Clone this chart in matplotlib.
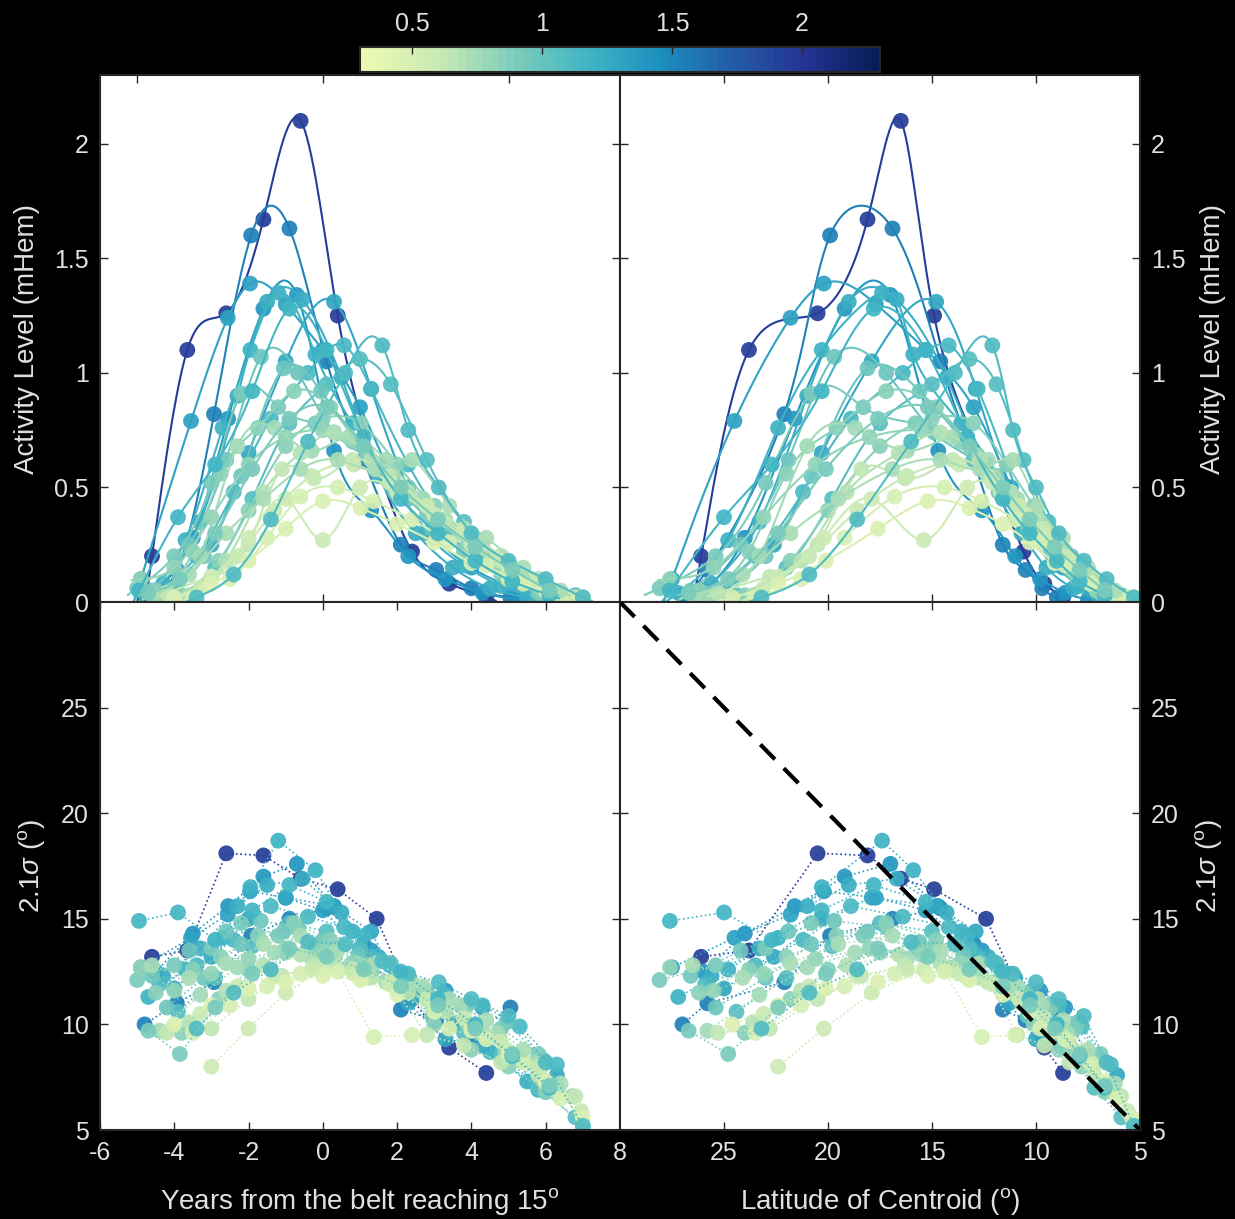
import numpy as np
import matplotlib
matplotlib.use("Agg")
import matplotlib.pyplot as plt
from matplotlib.colors import ListedColormap, Normalize
from matplotlib.cm import ScalarMappable

plt.rcParams['font.family'] = ['Liberation Sans', 'DejaVu Sans']
plt.rcParams['mathtext.fontset'] = 'custom'
plt.rcParams['mathtext.rm'] = 'Liberation Sans'
plt.rcParams['mathtext.it'] = 'Liberation Sans:italic'
plt.rcParams['axes.unicode_minus'] = False

# ---------------- data ----------------
cycle_strength = [1.95, 1.52, 1.42, 1.32, 1.28, 1.22, 1.18, 1.12, 1.08, 0.98,
                  0.98, 0.92, 0.86, 0.84, 0.80, 0.76, 0.70, 0.64, 0.60, 0.57,
                  0.50, 0.46, 0.72, 1.10, 1.15, 0.90]

cycle_years = [
    [-4.6, -3.65, -2.6, -1.6, -0.6, 0.4, 1.45, 2.4, 3.4, 4.4],
    [-4.8, -3.93, -2.93, -1.93, -0.9, 0.1, 1.1, 2.1, 3.05, 4.0, 5.05],
    [-4.5, -3.5, -2.55, -1.6, -0.7, 0.3, 1.3, 2.3, 3.3, 4.3, 5.3],
    [-4.9, -3.55, -2.56, -1.96, -1.0, 0.0, 1.0, 2.0, 3.0, 4.0, 5.0, 6.0],
    [-4.0, -3.0, -2.0, -1.0, 0.3, 1.3, 2.3, 3.3, 4.3, 5.3, 6.3],
    [-4.3, -3.3, -2.3, -1.5, -0.55, 0.5, 1.5, 2.5, 3.5, 4.5, 5.5],
    [-4.7, -3.7, -2.7, -1.95, -1.2, -0.2, 0.8, 1.8, 2.8, 3.8, 4.8, 5.8],
    [-4.4, -3.4, -2.4, -1.4, -0.4, 0.57, 1.3, 2.3, 3.3, 4.3, 5.3, 6.3],
    [-3.9, -2.9, -1.9, -0.9, 0.1, 1.0, 1.83, 2.8, 3.8, 4.8, 5.8, 6.8],
    [-4.6, -3.6, -2.6, -1.67, -0.67, 0.3, 1.3, 2.3, 3.3, 4.3, 5.3, 6.3],
    [-4.2, -3.2, -2.2, -1.05, -0.05, 0.95, 1.95, 2.95, 3.95, 4.95, 5.95],
    [-5.0, -4.0, -3.0, -2.2, -1.2, -0.2, 0.8, 1.8, 2.8, 3.8, 4.8, 5.8],
    [-4.5, -3.5, -2.75, -1.75, -0.78, 0.2, 1.2, 2.2, 3.2, 4.2, 5.2, 6.2],
    [-3.8, -2.8, -2.0, -1.0, 0.0, 1.02, 2.0, 3.0, 4.0, 5.0, 6.0, 7.0],
    [-4.9, -4.0, -3.0, -2.0, -1.0, 0.0, 0.9, 1.9, 2.9, 3.9, 4.9, 5.9],
    [-4.4, -3.3, -2.3, -1.3, -0.3, 0.7, 1.7, 2.7, 3.7, 4.7, 5.7, 6.7],
    [-3.6, -2.6, -1.6, -0.6, 0.3, 1.3, 2.3, 3.3, 4.3, 5.3, 6.3],
    [-4.2, -3.0, -2.0, -1.1, -0.24, 0.8, 1.8, 2.8, 3.8, 4.8, 5.8, 6.8],
    [-3.3, -2.3, -1.3, -0.3, 0.83, 1.8, 2.8, 3.8, 4.8, 5.8, 6.95],
    [-3.0, -2.0, -1.0, 0.0, 1.0, 2.0, 3.0, 4.0, 5.0, 6.0],
    [-3.5, -2.5, -1.5, -0.6, 0.4, 1.37, 2.4, 3.4, 4.4, 5.4, 6.4],
    [-4.0, -3.0, -2.0, -1.0, 0.0, 1.02, 2.0, 3.0, 4.0, 5.0, 6.0, 7.0],
    [-4.6, -3.6, -2.6, -1.6, -0.6, 0.4, 1.4, 2.4, 3.4, 4.4, 5.4, 6.4],
    [-3.4, -2.4, -1.4, -0.4, 0.6, 1.6, 2.3, 3.12, 4.0, 5.0, 6.0, 7.0],
    [-4.95, -3.9, -2.9, -1.9, -0.9, 0.1, 1.1, 2.1, 3.1, 4.1, 5.1, 6.1],
    [-4.7, -3.85, -2.9, -1.9, -0.9, 0.1, 1.1, 2.1, 3.1, 4.1, 5.1, 6.1],
]

cycle_activity = [
    [0.20, 1.10, 1.26, 1.67, 2.10, 1.25, 0.60, 0.22, 0.08, 0.02],
    [0.03, 0.14, 0.82, 1.60, 1.63, 1.05, 0.62, 0.25, 0.14, 0.06, 0.02],
    [0.05, 0.28, 0.80, 1.28, 1.34, 0.66, 0.40, 0.20, 0.10, 0.04, 0.01],
    [0.10, 0.79, 1.24, 1.39, 1.30, 1.10, 0.85, 0.50, 0.28, 0.15, 0.07, 0.02],
    [0.05, 0.25, 0.65, 1.05, 1.31, 0.93, 0.50, 0.30, 0.18, 0.08, 0.03],
    [0.08, 0.35, 0.90, 1.31, 1.32, 0.98, 0.55, 0.30, 0.15, 0.06, 0.02],
    [0.04, 0.27, 0.76, 1.10, 1.35, 1.08, 0.78, 0.55, 0.30, 0.16, 0.07, 0.02],
    [0.04, 0.20, 0.48, 0.80, 1.00, 1.12, 0.93, 0.60, 0.35, 0.20, 0.10, 0.03],
    [0.03, 0.15, 0.45, 0.78, 0.95, 1.06, 0.95, 0.62, 0.35, 0.20, 0.10, 0.03],
    [0.05, 0.25, 0.62, 1.07, 1.00, 0.74, 0.62, 0.45, 0.30, 0.18, 0.10, 0.03],
    [0.04, 0.20, 0.55, 1.02, 0.92, 0.70, 0.48, 0.32, 0.20, 0.10, 0.03],
    [0.06, 0.20, 0.52, 0.91, 0.85, 0.78, 0.70, 0.55, 0.38, 0.22, 0.12, 0.04],
    [0.05, 0.22, 0.56, 0.76, 0.92, 0.85, 0.64, 0.48, 0.34, 0.22, 0.12, 0.04],
    [0.03, 0.18, 0.40, 0.68, 0.80, 0.78, 0.60, 0.42, 0.28, 0.16, 0.08, 0.02],
    [0.10, 0.15, 0.37, 0.60, 0.72, 0.75, 0.70, 0.55, 0.40, 0.26, 0.14, 0.05],
    [0.02, 0.20, 0.68, 0.76, 0.66, 0.72, 0.62, 0.45, 0.30, 0.18, 0.09, 0.02],
    [0.03, 0.18, 0.48, 0.65, 0.74, 0.62, 0.48, 0.36, 0.24, 0.13, 0.04],
    [0.04, 0.11, 0.25, 0.58, 0.54, 0.62, 0.55, 0.42, 0.30, 0.18, 0.08, 0.02],
    [0.06, 0.20, 0.40, 0.55, 0.60, 0.52, 0.42, 0.32, 0.20, 0.10, 0.02],
    [0.11, 0.28, 0.45, 0.27, 0.50, 0.48, 0.38, 0.25, 0.14, 0.05],
    [0.02, 0.10, 0.28, 0.46, 0.50, 0.44, 0.36, 0.26, 0.16, 0.08, 0.02],
    [0.02, 0.08, 0.18, 0.32, 0.44, 0.41, 0.34, 0.26, 0.17, 0.10, 0.05, 0.01],
    [0.03, 0.12, 0.30, 0.45, 0.58, 0.62, 0.58, 0.62, 0.42, 0.28, 0.15, 0.05],
    [0.02, 0.12, 0.36, 0.70, 1.00, 1.12, 0.75, 0.50, 0.30, 0.18, 0.10, 0.02],
    [0.05, 0.37, 0.60, 0.92, 1.28, 1.10, 0.72, 0.45, 0.30, 0.18, 0.09, 0.03],
    [0.04, 0.10, 0.30, 0.58, 0.80, 0.85, 0.68, 0.50, 0.36, 0.24, 0.14, 0.05],
]

cycle_latitude = [
    [26.1, 23.8, 20.5, 18.1, 16.5, 14.9, 12.4, 10.6, 9.6, 8.7],
    [27.0, 25.8, 22.1, 19.9, 16.9, 14.6, 13.0, 11.6, 10.5, 9.7, 9.0],
    [26.0, 24.0, 21.6, 19.2, 17.0, 14.7, 12.6, 11.0, 9.8, 8.6, 7.5],
    [27.5, 24.5, 21.8, 20.2, 17.7, 15.3, 13.0, 11.2, 9.9, 8.7, 7.5, 6.3],
    [25.0, 22.6, 20.3, 17.9, 14.8, 12.9, 11.3, 10.0, 8.8, 7.5, 6.1],
    [25.6, 23.3, 21.0, 19.0, 16.7, 14.3, 12.3, 10.7, 9.5, 8.2, 7.0],
    [27.2, 24.8, 22.4, 20.3, 17.4, 15.9, 13.6, 11.9, 10.4, 9.1, 7.9, 6.6],
    [25.9, 23.5, 21.2, 18.9, 16.4, 14.2, 12.8, 11.4, 10.2, 8.9, 7.8, 6.4],
    [24.4, 22.0, 19.8, 17.5, 15.0, 13.2, 11.9, 10.6, 9.4, 8.3, 7.2, 5.9],
    [26.6, 24.2, 21.9, 19.7, 17.2, 14.9, 13.0, 11.4, 10.1, 9.0, 7.9, 6.7],
    [25.4, 23.0, 20.8, 18.1, 15.6, 13.5, 11.8, 10.4, 9.2, 8.0, 6.8],
    [28.1, 25.4, 23.0, 20.8, 18.3, 15.8, 13.6, 11.9, 10.5, 9.3, 8.1, 6.9],
    [26.2, 23.8, 22.0, 19.6, 17.2, 14.8, 12.8, 11.3, 10.0, 8.9, 7.8, 6.5],
    [24.0, 21.8, 20.0, 17.5, 15.0, 13.0, 11.4, 10.1, 8.9, 7.8, 6.7, 5.3],
    [27.6, 25.5, 23.1, 20.6, 18.0, 15.5, 13.6, 12.0, 10.7, 9.5, 8.3, 7.1],
    [25.8, 23.3, 21.0, 18.7, 16.2, 14.0, 12.3, 10.9, 9.7, 8.5, 7.3, 6.0],
    [23.6, 21.3, 19.1, 16.6, 14.6, 12.7, 11.2, 10.0, 8.8, 7.6, 6.3],
    [25.3, 22.8, 20.5, 18.4, 16.3, 14.0, 12.3, 10.9, 9.6, 8.4, 7.2, 5.9],
    [23.1, 20.9, 18.6, 16.2, 13.7, 12.1, 10.8, 9.6, 8.4, 7.2, 5.6],
    [22.4, 20.2, 17.9, 15.4, 13.3, 11.7, 10.4, 9.1, 7.9, 6.6],
    [23.5, 21.3, 19.2, 16.8, 14.4, 12.6, 11.0, 9.8, 8.6, 7.4, 6.1],
    [24.6, 22.4, 20.1, 17.6, 15.2, 13.2, 11.6, 10.3, 9.1, 7.9, 6.7, 5.4],
    [26.5, 24.1, 21.8, 19.5, 16.9, 14.6, 12.7, 11.1, 9.9, 8.7, 7.5, 6.2],
    [23.2, 20.9, 18.6, 16.0, 13.9, 12.1, 11.1, 10.0, 8.9, 7.7, 6.6, 5.3],
    [27.6, 25.0, 22.7, 20.3, 17.8, 15.3, 13.3, 11.6, 10.3, 9.0, 7.9, 6.7],
    [26.7, 24.8, 22.4, 20.1, 17.6, 15.2, 13.2, 11.6, 10.3, 9.1, 7.9, 6.7],
]

cycle_sigma = [
    [13.2, 13.5, 18.1, 18.0, 16.9, 16.4, 15.0, 11.2, 8.9, 7.7],
    [10.0, 11.0, 12.0, 14.2, 15.0, 15.5, 13.8, 10.7, 10.2, 9.4, 10.8],
    [12.5, 14.3, 15.6, 17.0, 17.6, 15.6, 13.5, 12.2, 11.6, 10.8, 8.3],
    [12.7, 14.1, 15.2, 16.3, 16.0, 15.4, 13.6, 12.4, 11.2, 9.8, 8.5, 6.8],
    [11.7, 13.2, 15.0, 16.0, 15.6, 14.4, 11.0, 9.3, 9.0, 8.4, 7.6],
    [12.3, 13.6, 15.6, 16.6, 16.9, 15.3, 13.2, 11.4, 10.0, 8.7, 7.3],
    [11.3, 12.6, 14.1, 16.5, 18.7, 17.3, 14.4, 12.8, 11.5, 10.1, 8.4, 6.9],
    [11.9, 12.8, 14.0, 15.6, 15.1, 14.6, 13.2, 12.3, 11.4, 10.9, 9.9, 8.1],
    [10.6, 12.2, 13.7, 14.8, 14.4, 13.6, 12.9, 11.2, 9.6, 8.6, 7.0, 5.6],
    [12.3, 13.5, 14.4, 14.9, 14.6, 13.6, 12.6, 11.6, 10.6, 9.6, 8.3, 7.0],
    [10.8, 12.2, 13.8, 14.4, 13.9, 13.3, 12.0, 10.4, 11.0, 10.1, 8.3],
    [12.1, 12.8, 13.6, 14.8, 14.2, 13.7, 12.9, 12.0, 11.5, 10.8, 9.8, 8.6],
    [11.5, 12.6, 13.2, 14.2, 14.8, 14.0, 12.8, 11.8, 10.7, 9.6, 8.4, 7.0],
    [9.6, 11.2, 12.6, 13.4, 13.5, 12.8, 12.2, 10.0, 8.8, 8.0, 6.8, 5.2],
    [12.7, 11.6, 12.4, 13.1, 13.6, 13.3, 12.9, 12.0, 11.0, 10.0, 8.7, 7.4],
    [9.7, 11.4, 12.7, 13.4, 13.1, 12.7, 12.0, 11.8, 10.9, 9.6, 8.2, 6.6],
    [10.1, 11.6, 12.8, 13.3, 12.9, 12.2, 11.5, 10.6, 9.6, 8.4, 6.8],
    [9.6, 9.8, 11.2, 12.3, 12.8, 12.6, 12.0, 9.5, 9.0, 8.2, 7.6, 6.6],
    [10.5, 11.8, 12.3, 12.6, 12.4, 11.9, 11.2, 10.3, 9.2, 8.0, 5.9],
    [8.0, 9.8, 11.5, 12.6, 12.2, 11.8, 11.0, 9.9, 8.7, 7.2],
    [9.6, 10.9, 11.8, 12.4, 12.5, 9.4, 9.5, 9.8, 9.3, 8.2, 6.5],
    [10.0, 10.9, 11.7, 12.0, 12.3, 12.1, 11.4, 10.6, 9.7, 8.6, 7.3, 5.6],
    [12.8, 12.2, 12.9, 13.8, 14.2, 13.5, 12.9, 12.0, 11.2, 10.2, 8.8, 7.2],
    [9.8, 11.5, 12.6, 13.9, 13.8, 13.0, 12.4, 12.0, 11.2, 10.4, 8.2, 5.2],
    [14.9, 15.3, 14.0, 15.4, 16.6, 15.8, 14.2, 12.5, 11.2, 10.0, 8.5, 7.0],
    [9.7, 8.6, 10.8, 12.4, 13.6, 13.2, 12.6, 11.8, 10.9, 9.8, 8.6, 7.1],
]

color_ticks = [0.5, 1, 1.5, 2]
years_ticks = [-6, -4, -2, 0, 2, 4, 6, 8]
lat_ticks = [25, 20, 15, 10, 5]
activity_ticks = [0, 0.5, 1, 1.5, 2]
sigma_ticks = [5, 10, 15, 20, 25]


# ---------------- helpers ----------------
def natural_spline(x, y, xs):
    x = np.asarray(x, float); y = np.asarray(y, float)
    n = len(x); h = np.diff(x)
    A = np.zeros((n, n)); r = np.zeros(n)
    A[0, 0] = A[-1, -1] = 1.0
    for i in range(1, n - 1):
        A[i, i - 1] = h[i - 1]
        A[i, i] = 2 * (h[i - 1] + h[i])
        A[i, i + 1] = h[i]
        r[i] = 3 * ((y[i + 1] - y[i]) / h[i] - (y[i] - y[i - 1]) / h[i - 1])
    c = np.linalg.solve(A, r)
    b = (y[1:] - y[:-1]) / h - h * (2 * c[:-1] + c[1:]) / 3
    d = (c[1:] - c[:-1]) / (3 * h)
    idx = np.clip(np.searchsorted(x, xs) - 1, 0, n - 2)
    dx = xs - x[idx]
    return y[idx] + b[idx] * dx + c[idx] * dx ** 2 + d[idx] * dx ** 3


base = plt.get_cmap('YlGnBu')
cmap = ListedColormap(base(np.linspace(0.12, 1.0, 64)))
norm = Normalize(vmin=0.3, vmax=2.3)

W, H = 1235, 1219
fig = plt.figure(figsize=(W / 100, H / 100), dpi=100, facecolor='black')


def fx(px):
    return px / W


def fy(py):
    return 1 - py / H


L0, L1, R1 = 100, 620, 1140
T0, M0, B0 = 75, 602, 1130
ax_tl = fig.add_axes([fx(L0), fy(M0), fx(L1 - L0), (M0 - T0) / H])
ax_tr = fig.add_axes([fx(L1), fy(M0), fx(R1 - L1), (M0 - T0) / H])
ax_bl = fig.add_axes([fx(L0), fy(B0), fx(L1 - L0), (B0 - M0) / H])
ax_br = fig.add_axes([fx(L1), fy(B0), fx(R1 - L1), (B0 - M0) / H])
cax = fig.add_axes([fx(360), fy(72), fx(520), 25 / H])

TXT = '#e0e0e0'
SP = '#262626'
TFS = 18
LFS = 20

for ax in (ax_tl, ax_tr, ax_bl, ax_br):
    ax.set_facecolor('white')
    for s in ax.spines.values():
        s.set_color(SP)
        s.set_linewidth(1.5)
    ax.tick_params(direction='in', length=6, width=1, color=SP, labelcolor=TXT,
                   labelsize=TFS, top=True, bottom=True, left=True, right=True)

ms = 130
for k in range(len(cycle_years)):
    t = np.array(cycle_years[k]); a = np.array(cycle_activity[k])
    la = np.array(cycle_latitude[k]); sg = np.array(cycle_sigma[k])
    col = cmap(norm(cycle_strength[k]))
    tf = np.linspace(t[0] - 0.25, t[-1] + 0.25, 300)
    af = natural_spline(t, a, tf)
    lf = natural_spline(t, la, tf)
    z = 2 + k * 0.01
    ax_tl.plot(tf, af, color=col, lw=1.5, zorder=z)
    ax_tl.scatter(t, a, s=ms, color=col, edgecolors='none', alpha=0.92, zorder=z + 0.005)
    ax_tr.plot(lf, af, color=col, lw=1.5, zorder=z)
    ax_tr.scatter(la, a, s=ms, color=col, edgecolors='none', alpha=0.92, zorder=z + 0.005)
    ax_bl.plot(t, sg, color=col, lw=1.2, ls=':', zorder=z)
    ax_bl.scatter(t, sg, s=ms, color=col, edgecolors='none', alpha=0.92, zorder=z + 0.005)
    ax_br.plot(la, sg, color=col, lw=1.2, ls=':', zorder=z)
    ax_br.scatter(la, sg, s=ms, color=col, edgecolors='none', alpha=0.92, zorder=z + 0.005)

ax_br.plot([30, 5], [30, 5], color='black', lw=3, ls=(0, (5, 3)), zorder=5)

# limits and ticks
for ax in (ax_tl, ax_bl):
    ax.set_xlim(-6, 8)
for ax in (ax_tr, ax_br):
    ax.set_xlim(30, 5)
for ax in (ax_tl, ax_tr):
    ax.set_ylim(0, 2.3)
    ax.set_yticks(activity_ticks)
    ax.set_yticklabels(['0', '0.5', '1', '1.5', '2'])
for ax in (ax_bl, ax_br):
    ax.set_ylim(5, 30)
    ax.set_yticks(sigma_ticks)

ax_tl.set_xticks([-5, 0, 5])
ax_tl.tick_params(labelbottom=False)
ax_tr.set_xticks([25, 20, 15, 10])
ax_tr.tick_params(labelbottom=False, labelleft=False, labelright=True)
ax_bl.set_xticks(years_ticks)
ax_br.set_xticks(lat_ticks)
ax_br.tick_params(labelleft=False, labelright=True)
for ax in (ax_tl, ax_tr, ax_bl, ax_br):
    ax.tick_params(axis='both', pad=8)

ax_bl.set_xlabel('Years from the belt reaching 15$^{\\rm o}$', color=TXT, fontsize=LFS, labelpad=15)
ax_br.set_xlabel('Latitude of Centroid ($^{\\rm o}$)', color=TXT, fontsize=LFS, labelpad=15)
ax_tl.set_ylabel('Activity Level (mHem)', color=TXT, fontsize=LFS, labelpad=10)
ax_bl.set_ylabel('2.1$\\sigma$ ($^{\\rm o}$)', color=TXT, fontsize=LFS, labelpad=10)
ax_tr.yaxis.set_label_position('right')
ax_tr.set_ylabel('Activity Level (mHem)', color=TXT, fontsize=LFS, labelpad=10)
ax_br.yaxis.set_label_position('right')
ax_br.set_ylabel('2.1$\\sigma$ ($^{\\rm o}$)', color=TXT, fontsize=LFS, labelpad=10)

# colorbar
sm = ScalarMappable(norm=norm, cmap=cmap)
cb = fig.colorbar(sm, cax=cax, orientation='horizontal', ticks=color_ticks)
cb.ax.xaxis.set_ticks_position('top')
cb.ax.xaxis.set_label_position('top')
cb.ax.tick_params(direction='in', length=5, width=1, color=SP, labelcolor=TXT,
                  labelsize=TFS, pad=8)
cb.ax.set_xticklabels(['0.5', '1', '1.5', '2'])
cb.outline.set_edgecolor(SP)
cb.outline.set_linewidth(1.5)

fig.savefig('out.png', dpi=100, facecolor='black')
